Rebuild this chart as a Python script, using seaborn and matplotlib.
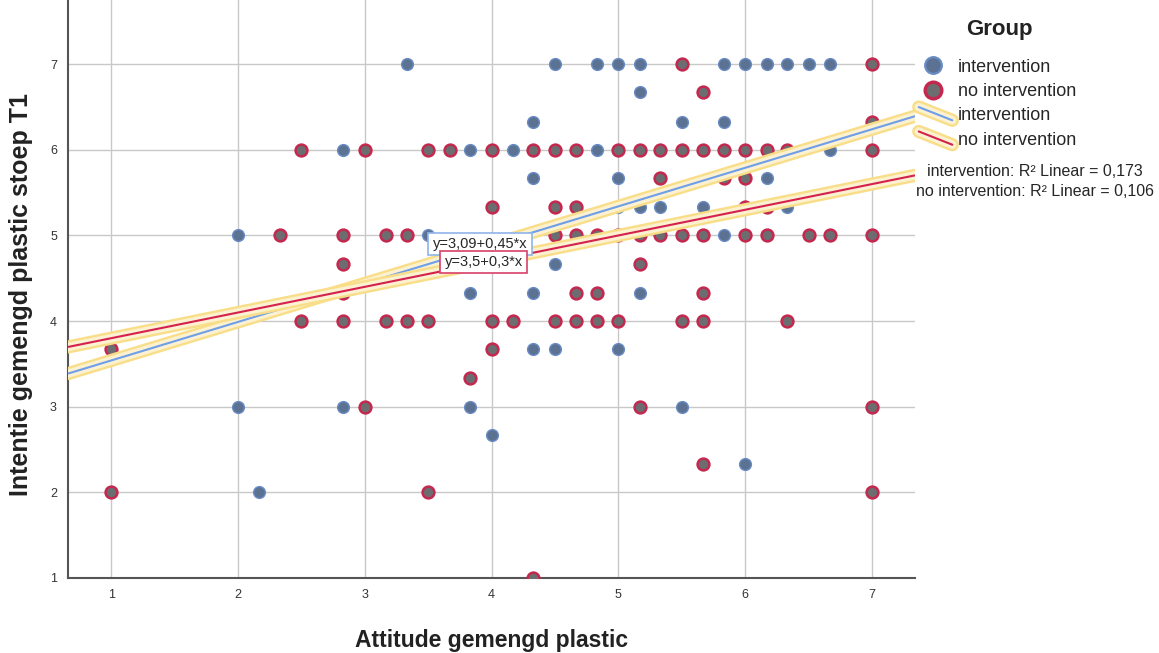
import numpy as np
import pandas as pd
import matplotlib.pyplot as plt
import matplotlib.patheffects as pe
from matplotlib.lines import Line2D
from matplotlib.legend_handler import HandlerBase
import seaborn as sns

# points (attitude = mean of 6 items, intention = mean of 3)
int_x = [3.33, 4.5, 4.83, 5, 5.17, 5.83, 6, 6.17, 6.33, 6.5, 6.67,
         5.17,
         4.33, 5.5, 5.83,
         2.83, 3.83, 4.17, 4.83, 6.67,
         4.33, 5, 6.17,
         5, 5.17, 5.33, 5.67, 6.33,
         2, 3.5, 5.83,
         4.5,
         3.83, 4.33, 5.17,
         4.33, 4.5, 5,
         2, 2.83, 3.83, 5.5,
         4,
         6,
         2.17]
int_y = [7, 7, 7, 7, 7, 7, 7, 7, 7, 7, 7,
         6.67,
         6.33, 6.33, 6.33,
         6, 6, 6, 6, 6,
         5.67, 5.67, 5.67,
         5.33, 5.33, 5.33, 5.33, 5.33,
         5, 5, 5,
         4.67,
         4.33, 4.33, 4.33,
         3.67, 3.67, 3.67,
         3, 3, 3, 3,
         2.67,
         2.33,
         2]

noint_x = [5.5, 7,
           5.67,
           7,
           2.5, 3, 3.5, 3.67, 4, 4.33, 4.5, 4.67, 5, 5.17, 5.33, 5.5, 5.67,
           5.83, 6, 6.17, 6.33, 7,
           5.33, 5.83, 6,
           4, 4.5, 4.67, 6, 6.17,
           2.33, 2.83, 3.17, 3.33, 4.5, 4.67, 4.83, 5, 5.17, 5.33, 5.5, 5.67,
           6, 6.17, 6.5, 6.67, 7,
           2.83, 5.17,
           2.83, 4.67, 4.83, 5.67,
           2.5, 2.83, 3.17, 3.33, 3.5, 4, 4.17, 4.5, 4.67, 4.83, 5, 5.5, 5.67, 6.33,
           1, 4,
           3.83,
           3, 5.17, 7,
           5.67,
           1, 3.5, 7,
           4.33]
noint_y = [7, 7,
           6.67,
           6.33,
           6, 6, 6, 6, 6, 6, 6, 6, 6, 6, 6, 6, 6,
           6, 6, 6, 6, 6,
           5.67, 5.67, 5.67,
           5.33, 5.33, 5.33, 5.33, 5.33,
           5, 5, 5, 5, 5, 5, 5, 5, 5, 5, 5, 5,
           5, 5, 5, 5, 5,
           4.67, 4.67,
           4.33, 4.33, 4.33, 4.33,
           4, 4, 4, 4, 4, 4, 4, 4, 4, 4, 4, 4, 4, 4,
           3.67, 3.67,
           3.33,
           3, 3, 3,
           2.33,
           2, 2, 2,
           1]

groups = ['intervention', 'no intervention']
# fit lines (intercept, slope) as reported by SPSS
fit_int = [3.09, 0.45]
fit_noint = [3.5, 0.3]
r2 = [0.173, 0.106]
eq_labels = ['y=3,09+0,45*x', 'y=3,5+0,3*x']

df = pd.DataFrame({
    'attitude': int_x + noint_x,
    'intentie': int_y + noint_y,
    'Group': [groups[0]] * len(int_x) + [groups[1]] * len(noint_x),
})

sns.set_theme(style='white')
plt.rcParams['font.family'] = ['Liberation Sans', 'DejaVu Sans']

fill = {'intervention': '#5b7292', 'no intervention': '#6c6d70'}
edge = {'intervention': '#6a8cc6', 'no intervention': '#c4284e'}
edge_w = {'intervention': 1.0, 'no intervention': 1.8}
line_col = {'intervention': '#6f9fe8', 'no intervention': '#d5214e'}
halo = '#f9de8a'


class HandlerDiag(HandlerBase):
    # SPSS draws the fit-line legend keys as short slanted strokes
    def create_artists(self, legend, orig_handle, xdescent, ydescent,
                       width, height, fontsize, trans):
        x0 = -xdescent - 0.15 * width
        x1 = -xdescent + 1.4 * width
        ln = Line2D([x0, x1], [1.05 * height, 0.0],
                    color=orig_handle.get_color(), lw=orig_handle.get_linewidth(),
                    path_effects=orig_handle.get_path_effects(), transform=trans)
        return [ln]


fig = plt.figure(figsize=(11.59, 6.53), dpi=100)
ax = fig.add_axes([0.0587, 0.1149, 0.7308, 0.8851])

for g in groups:
    sns.scatterplot(data=df[df['Group'] == g], x='attitude', y='intentie',
                    color=fill[g], edgecolor=edge[g], linewidth=edge_w[g],
                    s=72, ax=ax, legend=False, zorder=3)

halo_fx = [pe.Stroke(linewidth=9.5, foreground=halo, capstyle='round'),
           pe.Stroke(linewidth=6, foreground='white', alpha=0.6, capstyle='round'),
           pe.Normal()]

xlim = (0.66, 7.34)
xs = np.array(xlim)
for g, (b0, b1) in zip(groups, [fit_int, fit_noint]):
    ax.plot(xs, b0 + b1 * xs, color=line_col[g], lw=1.5, zorder=4,
            path_effects=halo_fx, solid_capstyle='butt')

ax.text(3.91, 4.90, eq_labels[0], fontsize=10.5, ha='center', va='center',
        zorder=5, bbox=dict(boxstyle='square,pad=0.3', fc='white',
                            ec='#8fb4ea', lw=1.2))
ax.text(3.94, 4.69, eq_labels[1], fontsize=10.5, ha='center', va='center',
        zorder=6, bbox=dict(boxstyle='square,pad=0.3', fc='white',
                            ec='#d8406a', lw=1.2))

ax.set_xlim(*xlim)
ax.set_ylim(1, 7.75)
ax.set_xticks(range(1, 8))
ax.set_yticks(range(1, 8))
ax.grid(True, color='#c8c8c8', lw=1)
ax.set_axisbelow(True)
for s in ['top', 'right']:
    ax.spines[s].set_visible(False)
for s in ['left', 'bottom']:
    ax.spines[s].set_color('#555555')
    ax.spines[s].set_linewidth(1.5)
ax.tick_params(length=0, labelsize=9, colors='#333333', pad=8)
ax.set_xlabel('Attitude gemengd plastic', fontsize=16.5, fontweight='bold',
              labelpad=20, color='#222222')
ax.set_ylabel('Intentie gemengd plastic stoep T1', fontsize=18,
              fontweight='bold', color='#222222')
# label anchor is its baseline side (right edge once rotated), ~35px left of the spine
ax.yaxis.set_label_coords(-35 / 847, 1 - 295 / 578)

handles = [
    Line2D([], [], ls='none', marker='o', markersize=12,
           markerfacecolor=fill[g], markeredgecolor=edge[g],
           markeredgewidth=edge_w[g] + 0.6)
    for g in groups
]
line_handles = [
    Line2D([], [], color=line_col[g], lw=1.5, path_effects=halo_fx)
    for g in groups
]
fig.text(999 / 1159, 1 - 30 / 653, 'Group', ha='center', va='center',
         fontsize=16, fontweight='bold', color='#222222')
fig.legend(handles + line_handles, groups + groups, loc='upper left',
           bbox_to_anchor=(0.7955, 0.9104), frameon=False, fontsize=13,
           handlelength=1.2, handletextpad=0.8, labelspacing=0.41,
           borderpad=0, borderaxespad=0,
           handler_map={h: HandlerDiag() for h in line_handles})

fig.text(1035 / 1159, 1 - 171 / 653, 'intervention: R² Linear = 0,173',
         ha='center', va='center', fontsize=11.5)
fig.text(1035 / 1159, 1 - 191 / 653, 'no intervention: R² Linear = 0,106',
         ha='center', va='center', fontsize=11.5)

fig.savefig('out.png', dpi=100)
